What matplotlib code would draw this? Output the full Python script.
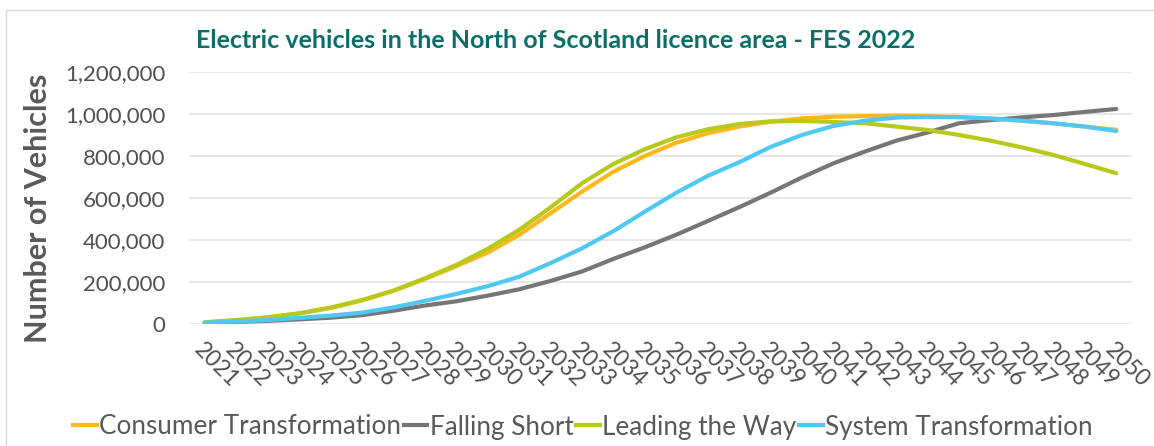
import numpy as np
import matplotlib.pyplot as plt
from matplotlib.ticker import FuncFormatter
from matplotlib.lines import Line2D

# anos e cenários FES 2022
anos = list(range(2021, 2051))

consumer = [8000, 18000, 31000, 50000, 76000, 112000, 157000, 214000, 275000, 340000,
            424000, 527000, 630000, 725000, 800000, 863000, 908000, 940000, 963000, 979000,
            987000, 990000, 992000, 990000, 985000, 978000, 968000, 955000, 940000, 925000]
falling = [6000, 10000, 15000, 22000, 30000, 42000, 63000, 88000, 108000, 135000,
           165000, 205000, 250000, 310000, 365000, 425000, 490000, 556000, 625000, 698000,
           765000, 821000, 873000, 912000, 956000, 971000, 984000, 995000, 1010000, 1024000]
leading = [8000, 19000, 32000, 51000, 78000, 114000, 159000, 217000, 281000, 358000,
           448000, 555000, 670000, 762000, 832000, 889000, 927000, 952000, 965000, 967000,
           962000, 956000, 940000, 924000, 900000, 873000, 841000, 805000, 762000, 718000]
system = [6000, 12000, 19000, 29000, 40000, 54000, 79000, 110000, 143000, 180000,
          225000, 290000, 360000, 442000, 535000, 625000, 705000, 770000, 843000, 900000,
          943000, 968000, 983000, 986000, 985000, 979000, 968000, 956000, 940000, 919000]

nomes = ['Consumer Transformation', 'Falling Short', 'Leading the Way', 'System Transformation']
cores = ['#FFB81C', '#767676', '#B7C91B', '#4FC9F3']

plt.rcParams['font.family'] = ['Lato', 'DejaVu Sans']
cinza = '#595959'

fig = plt.figure(figsize=(11.54, 4.46), dpi=100)
ax = fig.add_axes([189 / 1154, (446 - 324) / 446, (1132 - 189) / 1154, (324 - 72) / 446])

x = np.arange(len(anos))
for serie, nome, cor in zip([consumer, falling, leading, system], nomes, cores):
    ax.plot(x, serie, color=cor, linewidth=3, label=nome, solid_capstyle='round')

ax.set_xlim(-0.5, len(anos) - 0.5)
ax.set_ylim(0, 1200000)
ax.set_yticks(np.arange(0, 1200001, 200000))
ax.yaxis.set_major_formatter(FuncFormatter(lambda v, p: f'{int(v):,}'))
ax.grid(axis='y', color='#E3E3E3', linewidth=1.2)
ax.set_axisbelow(True)
for s in ax.spines.values():
    s.set_visible(False)
ax.tick_params(axis='both', length=0, colors='#505050', labelsize=16)
ax.tick_params(axis='y', pad=17)

ax.set_xticks(x)
ax.set_xticklabels([str(a) for a in anos], rotation=-45, ha='left', va='top',
                   rotation_mode='anchor', fontsize=16.5)
ax.tick_params(axis='x', pad=11)

ax.set_ylabel('Number of Vehicles', fontsize=22, color=cinza, fontweight='bold')
ax.yaxis.set_label_coords(-0.145, 0.46)

fig.text(556 / 1154, 1 - 40 / 446, 'Electric vehicles in the North of Scotland licence area - FES 2022',
         ha='center', va='center', fontsize=18, fontweight='bold', color='#0B6E69')

# legenda com traços curtos
handles = [Line2D([], [], color=c, linewidth=3) for c in cores]
fig.legend(handles, nomes, loc='center', bbox_to_anchor=(583 / 1154, 1 - 427 / 446), ncol=4,
           frameon=False, fontsize=18.8, handlelength=0.9, handletextpad=0.1, columnspacing=0.1,
           labelcolor=cinza)

# borda da área do gráfico
fig.add_artist(Line2D([6 / 1154, 6 / 1154], [0, 1 - 10 / 446], color='#D9D9D9', linewidth=1,
                      transform=fig.transFigure))
fig.add_artist(Line2D([6 / 1154, 1], [1 - 10 / 446, 1 - 10 / 446], color='#D9D9D9', linewidth=1,
                      transform=fig.transFigure))

fig.savefig('out.png', dpi=100)
